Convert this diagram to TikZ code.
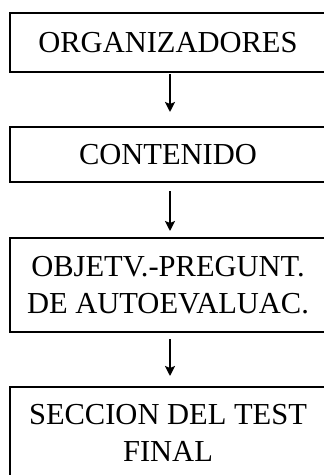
\documentclass[tikz,border=0pt]{standalone}
\usepackage{fontspec}
\setmainfont{Liberation Serif}
\usetikzlibrary{arrows.meta}

\tikzset{
  caja/.style={draw, line width=2pt, minimum width=316pt, align=center,
    inner sep=0pt, font=\fontsize{30.5}{37}\selectfont},
  flecha/.style={line width=2.2pt, -{Stealth[length=10pt,width=10pt,inset=2pt]}}
}

\begin{document}
\begin{tikzpicture}[x=1pt, y=1pt]
    \useasboundingbox (0,0) rectangle (324,-475);

    \node[caja, minimum height=59pt] (org) at (168,-42.5) {ORGANIZADORES};
    \node[caja, minimum height=55pt] (cont) at (168,-154.5) {CONTENIDO};
    \node[caja, minimum height=94pt] (obj) at (168,-285) {OBJETV.-PREGUNT.\\DE AUTOEVALUAC.};
    \node[caja, minimum height=91pt] (secc) at (168,-432.5) {SECCION DEL TEST\\FINAL};

    \draw[flecha, shorten <=1pt, shorten >=14pt] ([xshift=2pt]org.south) -- ([xshift=2pt]cont.north);
    \draw[flecha, shorten <=8pt, shorten >=6pt] ([xshift=2pt]cont.south) -- ([xshift=2pt]obj.north);
    \draw[flecha, shorten <=6pt, shorten >=10pt] ([xshift=2pt]obj.south) -- ([xshift=2pt]secc.north);
  \end{tikzpicture}
\end{document}
